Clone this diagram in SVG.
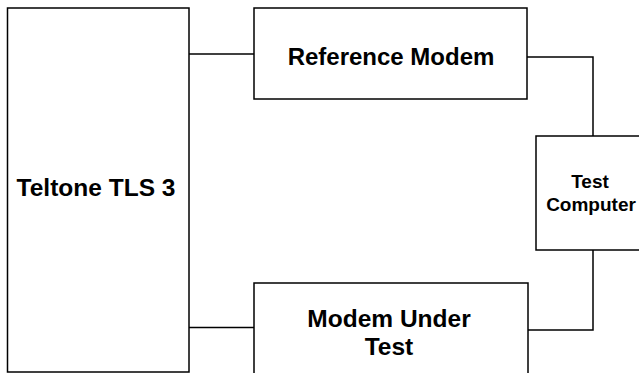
<svg xmlns="http://www.w3.org/2000/svg" width="639" height="373" viewBox="0 0 639 373">
<style>
.box{fill:#fff;stroke:#000;stroke-width:1.5}
.wire{fill:none;stroke:#000;stroke-width:1.5}
.lbl{font-family:"Liberation Sans",Arial,sans-serif;font-weight:bold;fill:#000;text-anchor:middle}
</style>
<rect width="639" height="373" fill="#fff"/>
<g id="connectors">
<path class="wire" d="M189 54H254"/>
<path class="wire" d="M189 327.5H254"/>
<path class="wire" d="M527 57H593V136"/>
<path class="wire" d="M528 330H593V250"/>
</g>
<g id="teltone">
<rect class="box" x="7.5" y="8" width="181.5" height="364"/>
<text class="lbl" x="96" y="196" font-size="24.5">Teltone TLS 3</text>
</g>
<g id="reference-modem">
<rect class="box" x="254" y="8" width="273" height="91"/>
<text class="lbl" x="391" y="65" font-size="24">Reference Modem</text>
</g>
<g id="test-computer">
<rect class="box" x="536" y="136" width="110" height="114"/>
<text class="lbl" x="590" y="187.5" font-size="19">Test</text>
<text class="lbl" x="591" y="211" font-size="19">Computer</text>
</g>
<g id="modem-under-test">
<rect class="box" x="254" y="283" width="274" height="100"/>
<text class="lbl" x="389" y="327" font-size="24.5">Modem Under</text>
<text class="lbl" x="389" y="355" font-size="24.5">Test</text>
</g>
</svg>
